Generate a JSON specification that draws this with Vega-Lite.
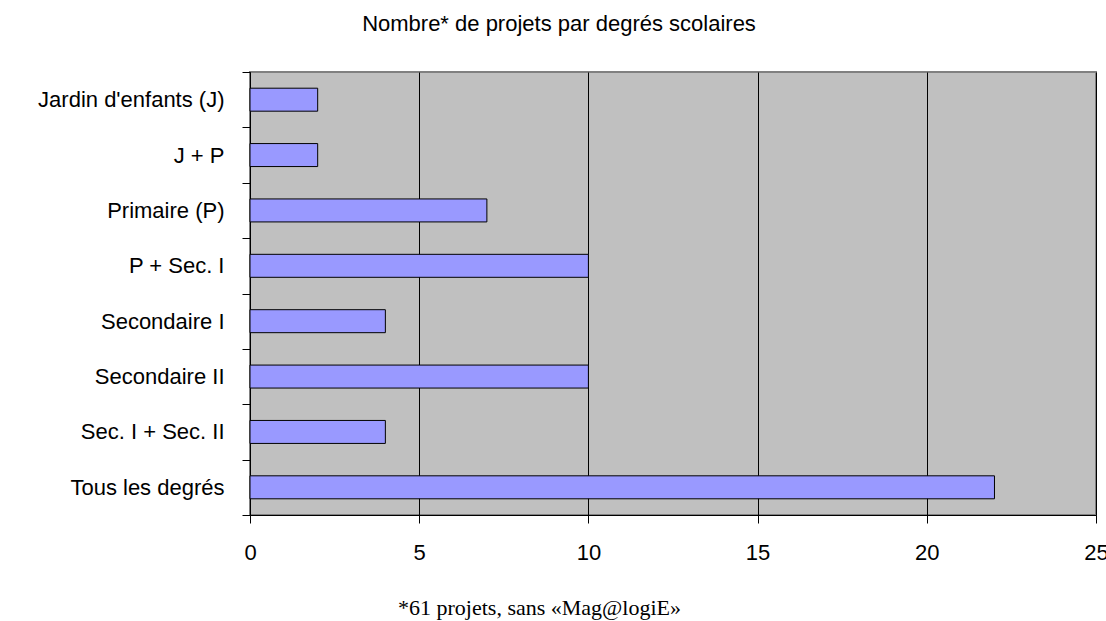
{
  "$schema": "https://vega.github.io/schema/vega-lite/v6.json",
  "width": 846,
  "height": 443,
  "autosize": {"type": "none"},
  "padding": {"left": 250, "top": 72, "right": 10, "bottom": 106},
  "background": "white",
  "title": {
    "text": "Nombre* de projets par degrés scolaires",
    "font": "Liberation Sans",
    "fontSize": 22,
    "fontWeight": "normal",
    "color": "black",
    "anchor": "middle",
    "offset": 25,
    "dx": -114
  },
  "config": {
    "view": {"fill": "#c0c0c0", "stroke": "#808080", "strokeWidth": 2},
    "axis": {"labelFont": "Liberation Sans", "labelFontSize": 22, "labelColor": "black"}
  },
  "data": {
    "values": [
      {"degre": "Jardin d'enfants (J)", "projets": 2},
      {"degre": "J + P", "projets": 2},
      {"degre": "Primaire (P)", "projets": 7},
      {"degre": "P + Sec. I", "projets": 10},
      {"degre": "Secondaire I", "projets": 4},
      {"degre": "Secondaire II", "projets": 10},
      {"degre": "Sec. I + Sec. II", "projets": 4},
      {"degre": "Tous les degrés", "projets": 22}
    ]
  },
  "mark": {"type": "bar", "fill": "#9999ff", "stroke": "black", "strokeWidth": 1, "height": {"band": 0.415}},
  "encoding": {
    "y": {
      "field": "degre",
      "type": "nominal",
      "sort": null,
      "scale": {"paddingInner": 0, "paddingOuter": 0},
      "axis": {
        "title": null,
        "domainColor": "black",
        "tickColor": "black",
        "tickSize": 8,
        "tickBand": "extent",
        "labelPadding": 18,
        "labelLimit": 400
      }
    },
    "x": {
      "field": "projets",
      "type": "quantitative",
      "scale": {"domain": [0, 25], "nice": false},
      "axis": {
        "values": [0, 5, 10, 15, 20, 25],
        "grid": true,
        "gridColor": "black",
        "gridOpacity": 1,
        "domainColor": "black",
        "tickColor": "black",
        "tickSize": 8,
        "labelPadding": 19,
        "labelFlush": false,
        "title": "*61 projets, sans «Mag@logiE»",
        "titleFont": "Liberation Serif",
        "titleFontSize": 22,
        "titleFontWeight": "normal",
        "titleColor": "black",
        "titlePadding": 34,
        "titleAlign": "center",
        "titleX": 289
      }
    }
  }
}
